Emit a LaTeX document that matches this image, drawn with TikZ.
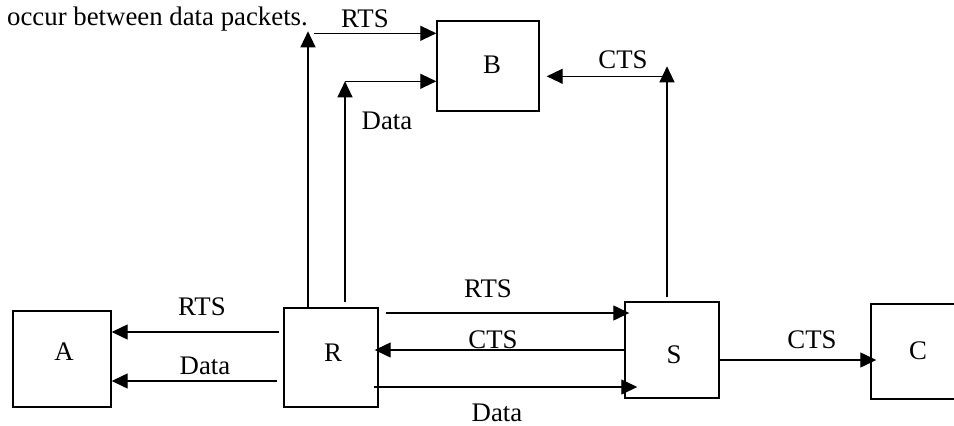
\documentclass[tikz,border=0pt]{standalone}
\usepackage{fontspec}
\setmainfont{Liberation Serif}
\usetikzlibrary{arrows.meta}
\begin{document}
\begin{tikzpicture}[x=1pt,y=-1pt,
  box/.style={draw,line width=1.4pt,inner sep=0pt},
  arr/.style={line width=1.3pt,-{Triangle[length=16pt,width=15pt]}},
  txt/.style={font=\fontsize{26.8pt}{31pt}\selectfont,inner sep=0pt,anchor=base}]
\useasboundingbox (0,0) rectangle (954,426);
\fill[white] (0,0) rectangle (954,426);
\clip (0,0) rectangle (954,426);

% stations
\node[box,minimum width=98pt,minimum height=96pt] (A) at (62,359) {};
\node[box,minimum width=94pt,minimum height=99pt] (R) at (331,357.5) {};
\node[box,minimum width=94pt,minimum height=96pt] (S) at (672,350) {};
\node[box,minimum width=102pt,minimum height=90pt] (B) at (488,66) {};
\node[box,minimum width=94pt,minimum height=95pt] (C) at (918,351.5) {};

% station names
\node[txt] (tA) at (64,360) {A};
\node[txt] (tR) at (333,361) {R};
\node[txt] (tS) at (674,363) {S};
\node[txt] (tB) at (492,73) {B};
\node[txt] (tC) at (918,359) {C};

% sentence fragment above
\node[txt,anchor=base west] (cap) at (7,25) {occur between data packets.};

% R -> A
\path (R.west) ++(-4,-25.5) coordinate (l1);
\draw[arr] (l1) -- (A.east |- l1);
\path (R.west) ++(-6,23.5) coordinate (l2);
\draw[arr] (l2) -- (A.east |- l2);
\node[txt] (kRA1) at (202,315) {RTS};
\node[txt] (kRA2) at (205,374) {Data};

% R <-> S
\path (R.east) ++(7,-44.5) coordinate (m1);
\path (S.west |- m1) ++(5,0) coordinate (m1e);
\draw[arr] (m1) -- (m1e);
\path (R.east |- S.west) ++(-4,0) coordinate (m2e);
\draw[arr] (S.west) -- (m2e);
\path (R.east) ++(-5,29.5) coordinate (m3);
\path (S.west |- m3) ++(13,0) coordinate (m3e);
\draw[arr] (m3) -- (m3e);
\node[txt] (kRS1) at (488,297) {RTS};
\node[txt] (kRS2) at (493,348) {CTS};
\node[txt] (kRS3) at (497,421) {Data};

% S -> C
\path (S.east) ++(0,10) coordinate (n1);
\path (C.west |- n1) ++(6,0) coordinate (n1e);
\draw[arr] (n1) -- (n1e);
\node[txt] (kSC) at (812,348) {CTS};

% R -> B (RTS)
\path (R.north) ++(-23,0) coordinate (u1);
\path (B.north west) ++(0,11) coordinate (b1);
\draw[arr] (u1) -- (u1 |- b1);
\path (u1 |- b1) ++(6,2) coordinate (h1);
\draw[arr] (h1) -- (B.west |- h1);
\node[txt] (kRB1) at (365,27) {RTS};

% R -> B (Data)
\path (R.north) ++(14,-5) coordinate (u2);
\path (B.north west) ++(0,61) coordinate (b2);
\draw[arr] (u2) -- (u2 |- b2);
\draw[arr] (u2 |- b2) -- (B.west |- b2);
\node[txt] (kRB2) at (387,129) {Data};

% S -> B (CTS)
\path (S.north) ++(-5,-4) coordinate (u3);
\path (B.north east) ++(0,46) coordinate (b3);
\draw[arr] (u3) -- (u3 |- b3);
\path (u3 |- b3) ++(1,10) coordinate (h3);
\path (B.east |- h3) ++(7,0) coordinate (h3e);
\draw[arr] (h3) -- (h3e);
\node[txt] (kSB) at (623,68) {CTS};
\end{tikzpicture}
\end{document}
